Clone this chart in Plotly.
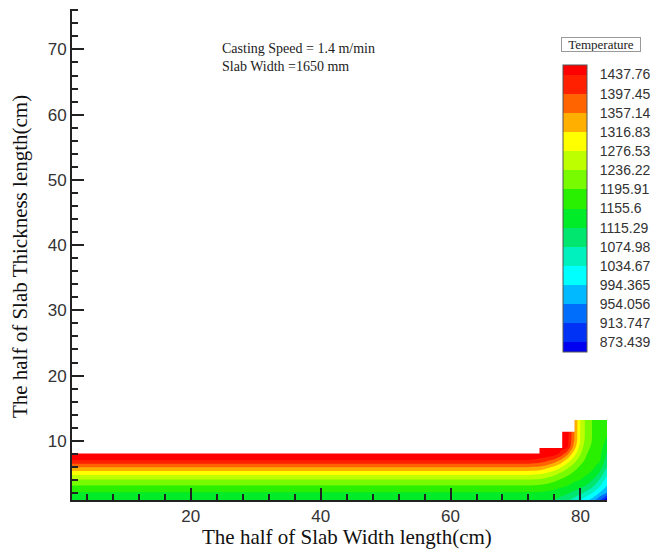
import plotly.graph_objects as go

# Grid positions across the half width (cm) and half thickness (cm)
width_pos = [1.7, 60, 70, 72, 74, 76, 77, 78, 79, 80, 81, 82, 83, 84.1]
thick_pos = [0.92, 2, 3, 4, 5, 6, 7, 8, 9, 10, 11, 12, 13.2]

# Temperature (deg C) per width position, listed from the slab surface upward
temp_columns = [
    [1120, 1152, 1190, 1232, 1290, 1362, 1435, 1478, 1500, 1500, 1500, 1500, 1500],  # 1.7
    [1120, 1152, 1190, 1232, 1290, 1362, 1435, 1478, 1500, 1500, 1500, 1500, 1500],  # 60
    [1120, 1152, 1190, 1232, 1290, 1362, 1435, 1478, 1500, 1500, 1500, 1500, 1500],  # 70
    [1120, 1152, 1190, 1232, 1290, 1362, 1435, 1478, 1500, 1500, 1500, 1500, 1500],  # 72
    [1118, 1150, 1185, 1226, 1281, 1351, 1422, 1465, 1490, 1500, 1500, 1500, 1500],  # 74
    [1112, 1141, 1171, 1205, 1250, 1310, 1385, 1455, 1480, 1495, 1500, 1500, 1500],  # 76
    [1100, 1130, 1162, 1191, 1229, 1281, 1349, 1425, 1455, 1470, 1490, 1500, 1500],  # 77
    [1085, 1120, 1153, 1178, 1208, 1248, 1300, 1370, 1438, 1450, 1455, 1470, 1480],  # 78
    [1060, 1105, 1137, 1166, 1188, 1217, 1254, 1295, 1341, 1362, 1365, 1365, 1365],  # 79
    [1035, 1085, 1125, 1155, 1172, 1190, 1214, 1240, 1256, 1272, 1274, 1274, 1274],  # 80
    [1005, 1060, 1105, 1140, 1160, 1173, 1185, 1197, 1206, 1215, 1218, 1218, 1218],  # 81
    [970, 1030, 1075, 1110, 1145, 1162, 1172, 1180, 1186, 1190, 1190, 1190, 1190],   # 82
    [920, 990, 1035, 1070, 1105, 1135, 1160, 1168, 1173, 1178, 1180, 1180, 1180],    # 83
    [840, 950, 990, 1015, 1045, 1075, 1095, 1112, 1130, 1148, 1158, 1163, 1168],     # 84.1
]

# Upper outline of the solidified shell (stepped mesh boundary)
shell_top_x = [1.7, 73.7, 73.7, 77.2, 77.2, 79.1, 79.1]
shell_top_y = [8.06, 8.06, 8.9, 8.9, 11.4, 11.4, 13.2]

# Contour levels and their legend labels
level_labels = ["873.439", "913.747", "954.056", "994.365", "1034.67", "1074.98",
                "1115.29", "1155.6", "1195.91", "1236.22", "1276.53", "1316.83",
                "1357.14", "1397.45", "1437.76"]
level_values = [float(v) for v in level_labels]

# Flood colours, coolest band first
band_colors = [
    "rgb(0,0,240)", "rgb(0,50,245)", "rgb(0,110,250)", "rgb(0,185,255)",
    "rgb(0,255,255)", "rgb(0,240,190)", "rgb(0,230,110)", "rgb(0,235,40)",
    "rgb(40,240,0)", "rgb(120,250,0)", "rgb(190,255,0)", "rgb(255,255,0)",
    "rgb(255,175,0)", "rgb(255,100,0)", "rgb(255,32,0)", "rgb(255,0,0)",
]

z = [list(row) for row in zip(*temp_columns)]
n_bands = len(band_colors)
colorscale = [[i / (n_bands - 1), c] for i, c in enumerate(band_colors)]
step = (level_values[-1] - level_values[0]) / (len(level_values) - 1)

# Plot area in pixels
L, R, T, B = 72, 52, 9, 53
W, H = 660, 553
pw, ph = W - L - R, H - T - B


def px_x(p):
    return (p - L) / pw


def px_y(p):
    return (H - B - p) / ph


fig = go.Figure()

fig.add_trace(go.Contour(
    x=width_pos, y=thick_pos, z=z,
    autocontour=False,
    contours=dict(start=level_values[0], end=level_values[-1], size=step,
                  coloring="fill", showlines=False),
    line=dict(width=0),
    colorscale=colorscale,
    hoverinfo="skip",
    colorbar=dict(
        x=px_x(563), xanchor="left", xpad=0,
        y=px_y(208.5), yanchor="middle", ypad=0,
        len=287, lenmode="pixels",
        thickness=24, thicknessmode="pixels",
        outlinewidth=1, outlinecolor="#555",
        tickvals=level_values, ticktext=level_labels,
        ticks="outside", ticklen=10, tickcolor="rgba(0,0,0,0)",
        tickfont=dict(family="Liberation Sans, Arial", size=14, color="#333"),
    ),
))

# Blank out the region above the shell outline
fig.add_trace(go.Scatter(
    x=shell_top_x + [shell_top_x[0]],
    y=shell_top_y + [thick_pos[-1]],
    mode="lines", fill="toself", fillcolor="white",
    line=dict(width=0, color="white"),
    hoverinfo="skip", showlegend=False,
))

axis_font = dict(family="Liberation Sans, Arial", size=17, color="#333")

fig.update_xaxes(
    range=[1.7, 84.1], tick0=0, dtick=20,
    ticks="inside", ticklen=12, tickwidth=2, tickcolor="#222",
    minor=dict(dtick=4, ticks="inside", ticklen=6, tickwidth=1.5, tickcolor="#222"),
    showline=True, linewidth=2, linecolor="#222",
    showgrid=False, zeroline=False, tickfont=axis_font,
)
fig.update_yaxes(
    range=[0.92, 76.2], tick0=0, dtick=10,
    ticks="inside", ticklen=12, tickwidth=2, tickcolor="#222",
    minor=dict(dtick=2, ticks="inside", ticklen=6, tickwidth=1.5, tickcolor="#222"),
    showline=True, linewidth=2, linecolor="#222",
    showgrid=False, zeroline=False, tickfont=axis_font,
)

serif = "Liberation Serif, Times New Roman"
fig.update_layout(
    width=W, height=H,
    margin=dict(l=L, r=R, t=T, b=B, pad=0),
    paper_bgcolor="white", plot_bgcolor="white",
    showlegend=False,
    annotations=[
        dict(text="The half of Slab Width length(cm)", xref="paper", yref="paper",
             x=px_x(348), y=px_y(537), xanchor="center", yanchor="middle",
             showarrow=False, font=dict(family=serif, size=21, color="#111")),
        dict(text="The half of Slab Thickness length(cm)", xref="paper", yref="paper",
             x=px_x(20), y=px_y(257), xanchor="center", yanchor="middle", textangle=-90,
             showarrow=False, font=dict(family=serif, size=21, color="#111")),
        dict(text="Casting Speed = 1.4 m/min<br>Slab Width =1650 mm",
             xref="paper", yref="paper", align="left",
             x=px_x(220), y=px_y(57.5), xanchor="left", yanchor="middle",
             showarrow=False, font=dict(family=serif, size=14, color="#222")),
        dict(text="Temperature", xref="paper", yref="paper",
             x=px_x(601.7), y=px_y(44.3), xanchor="center", yanchor="middle",
             width=78, height=13, borderpad=0, bordercolor="#999", borderwidth=1,
             showarrow=False, font=dict(family=serif, size=13, color="#222")),
    ],
)

fig.write_html("out.html")
